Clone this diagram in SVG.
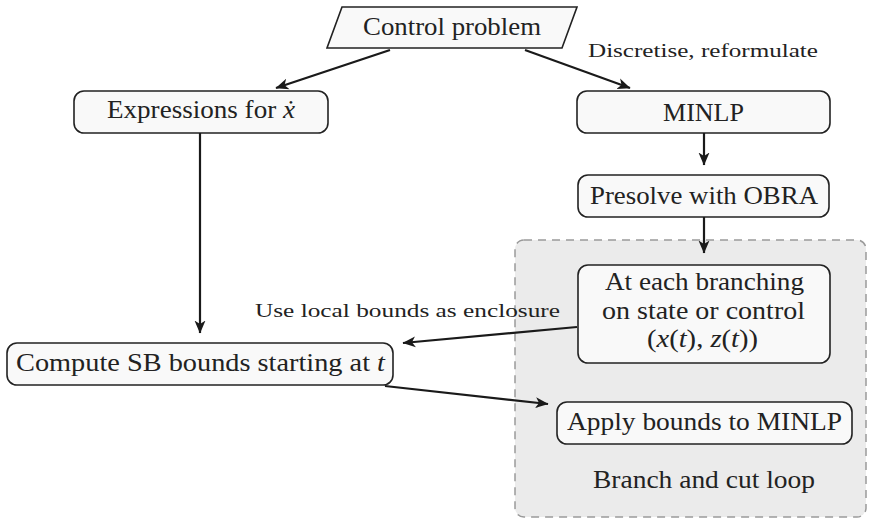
<svg xmlns="http://www.w3.org/2000/svg" width="871" height="519" viewBox="0 0 871 519">
<defs>
<marker id="arr" markerUnits="userSpaceOnUse" markerWidth="15" markerHeight="13" viewBox="0 0 15 13" refX="12.5" refY="6" orient="auto">
<path d="M0,0.5 L13,6 L0,11.5 L3.5,6 z" fill="#1a1a1a"/>
</marker>
</defs>
<style>
.node{fill:#f9f9f9;stroke:#222;stroke-width:1.6}
.t{font-family:"Liberation Serif","Times New Roman",serif;font-size:25px;fill:#222;text-anchor:middle}
.s{font-family:"Liberation Serif","Times New Roman",serif;font-size:18px;fill:#222;text-anchor:middle}
.c{fill:none;stroke:#1a1a1a;stroke-width:2.2;marker-end:url(#arr)}
</style>
<rect width="871" height="519" fill="#ffffff"/>
<g id="loop">
<rect x="515" y="240" width="351" height="277" rx="9" fill="#ebebeb" stroke="#9a9a9a" stroke-width="1.5" stroke-dasharray="8,6"/>
<text class="t" x="704" y="488" textLength="222" lengthAdjust="spacingAndGlyphs">Branch and cut loop</text>
</g>
<g id="control">
<polygon class="node" points="342,7 577,7 562,48 327,48"/>
<text class="t" x="452" y="35" textLength="178" lengthAdjust="spacingAndGlyphs">Control problem</text>
</g>
<g id="expressions">
<rect class="node" x="74" y="91" width="254" height="42" rx="10"/>
<text class="t" x="201" y="118" textLength="188" lengthAdjust="spacingAndGlyphs">Expressions for <tspan font-style="italic">ẋ</tspan></text>
</g>
<g id="minlp">
<rect class="node" x="577" y="91" width="253" height="42" rx="10"/>
<text class="t" x="703.5" y="121" textLength="81" lengthAdjust="spacingAndGlyphs">MINLP</text>
</g>
<g id="presolve">
<rect class="node" x="578" y="175" width="251" height="42" rx="10"/>
<text class="t" x="704" y="204" textLength="228" lengthAdjust="spacingAndGlyphs">Presolve with OBRA</text>
</g>
<g id="branching">
<rect class="node" x="578" y="265" width="252" height="98" rx="10"/>
<text class="t" x="704.5" y="290" textLength="199" lengthAdjust="spacingAndGlyphs">At each branching</text>
<text class="t" x="703.5" y="319" textLength="203" lengthAdjust="spacingAndGlyphs">on state or control</text>
<text class="t" x="702.5" y="347" textLength="111" lengthAdjust="spacingAndGlyphs">(<tspan font-style="italic">x</tspan>(<tspan font-style="italic">t</tspan>), <tspan font-style="italic">z</tspan>(<tspan font-style="italic">t</tspan>))</text>
</g>
<g id="compute">
<rect class="node" x="7" y="343" width="386" height="42" rx="10"/>
<text class="t" x="200.5" y="371" textLength="369" lengthAdjust="spacingAndGlyphs">Compute SB bounds starting at <tspan font-style="italic">t</tspan></text>
</g>
<g id="apply">
<rect class="node" x="557" y="402" width="295" height="42" rx="10"/>
<text class="t" x="704.5" y="430" textLength="275" lengthAdjust="spacingAndGlyphs">Apply bounds to MINLP</text>
</g>
<g id="connectors">
<line class="c" x1="390" y1="50" x2="276" y2="88"/>
<line class="c" x1="525" y1="50" x2="630" y2="88"/>
<line class="c" x1="200" y1="133" x2="200" y2="333"/>
<line class="c" x1="704" y1="133" x2="704" y2="165"/>
<line class="c" x1="704" y1="217" x2="704" y2="253"/>
<line class="c" x1="577" y1="327" x2="403" y2="343"/>
<line class="c" x1="385" y1="386" x2="548" y2="404"/>
<text class="s" x="703" y="57" textLength="230" lengthAdjust="spacingAndGlyphs">Discretise, reformulate</text>
<text class="s" x="407.5" y="317" textLength="305" lengthAdjust="spacingAndGlyphs">Use local bounds as enclosure</text>
</g>
</svg>
